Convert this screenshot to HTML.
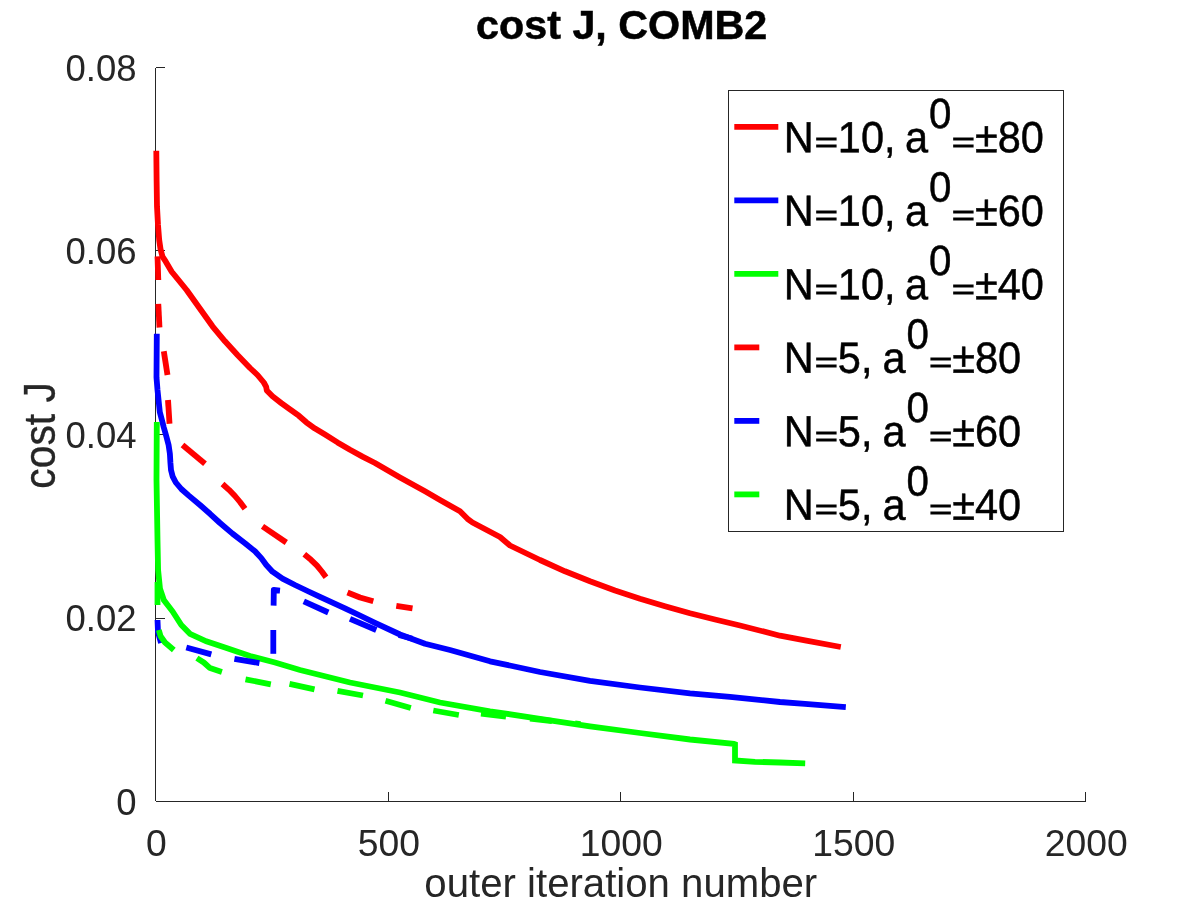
<!DOCTYPE html>
<html lang="en">
<head>
<meta charset="utf-8">
<title>cost J, COMB2</title>
<style>
html,body{margin:0;padding:0;background:#fff;}
body{width:1200px;height:900px;overflow:hidden;position:relative;}
</style>
</head>
<body>
<svg width="1200" height="900" viewBox="0 0 1200 900" style="position:absolute;left:0;top:0;display:block;will-change:transform">
<rect width="1200" height="900" fill="#fff"/>
<g stroke="#262626" stroke-width="1" fill="none" shape-rendering="crispEdges">
<path d="M155.5,68 V801"/>
<path d="M156,801.5 H1086"/>
<path d="M388.5,801 v-9"/>
<path d="M620.5,801 v-9"/>
<path d="M853.5,801 v-9"/>
<path d="M1085.5,801 v-9"/>
<path d="M156,618.5 h9"/>
<path d="M156,434.5 h9"/>
<path d="M156,250.5 h9"/>
<path d="M156,67.5 h9"/>
</g>
<polyline points="156.3,150.8 156.6,180.0 157.0,206.7 158.0,225.0 159.2,240.0 160.5,249.0 162.5,256.7 165.8,261.7 171.7,271.7 174.6,275.3 186.6,290.0 200.0,308.8 212.5,326.3 225.0,341.3 237.5,355.0 250.0,368.0 257.5,375.0 263.8,382.5 266.2,386.9 266.8,390.4 272.5,396.3 281.3,403.1 290.0,409.4 298.8,415.7 306.3,422.3 315.0,428.6 325.0,434.6 337.5,442.4 350.0,449.8 362.5,456.6 375.0,463.0 400.0,477.5 425.0,491.3 440.0,500.0 460.0,511.3 467.5,518.8 472.5,522.5 500.0,537.0 510.0,545.5 540.0,560.0 565.0,571.3 590.0,581.3 615.0,590.5 640.0,598.8 665.0,606.3 690.0,613.3 715.0,619.5 740.0,625.5 780.0,635.7 805.0,640.4 840.8,647.0" fill="none" stroke="#ff0000" stroke-width="5.8" stroke-linejoin="round" stroke-linecap="butt"/>
<polyline points="156.8,333.8 156.5,377.5 157.5,390.0 159.8,412.0 161.9,420.0 163.8,427.5 166.3,436.3 168.6,445.0 169.9,453.8 170.4,462.5 171.0,470.0 172.6,476.3 175.8,482.5 181.3,489.0 188.8,495.6 200.0,505.0 210.0,513.8 220.0,523.0 232.5,533.6 245.0,543.2 255.0,551.3 261.3,558.1 266.3,565.0 272.5,571.7 282.5,578.6 295.0,585.0 307.5,591.0 320.0,596.9 332.5,602.7 345.0,608.3 360.0,615.5 375.0,622.8 400.0,634.5 425.0,643.8 450.0,650.0 490.0,661.3 540.0,672.0 590.0,680.8 640.0,687.5 690.0,693.3 730.0,696.8 780.0,702.0 805.0,703.8 845.8,707.1" fill="none" stroke="#0000ff" stroke-width="5.8" stroke-linejoin="round" stroke-linecap="butt"/>
<polyline points="156.8,422.0 156.5,480.0 157.5,540.0 158.1,570.0 160.0,588.8 163.8,600.0 172.5,611.3 181.3,625.0 190.0,633.8 206.3,641.3 225.0,647.5 250.0,656.0 275.0,662.5 300.0,670.0 350.0,682.5 400.0,692.5 440.0,702.5 490.0,711.3 540.0,718.8 590.0,726.3 640.0,733.0 690.0,739.5 733.8,743.8 735.0,744.3 735.0,760.5 755.0,761.8 780.0,762.5 805.2,763.3" fill="none" stroke="#00ff00" stroke-width="5.8" stroke-linejoin="miter" stroke-linecap="butt"/>
<polyline points="157.5,256.3 158.3,280.0" fill="none" stroke="#ff0000" stroke-width="5.8" stroke-linejoin="round" stroke-linecap="butt"/>
<polyline points="158.3,303.8 159.5,327.5" fill="none" stroke="#ff0000" stroke-width="5.8" stroke-linejoin="round" stroke-linecap="butt"/>
<polyline points="163.8,351.3 167.5,375.0" fill="none" stroke="#ff0000" stroke-width="5.8" stroke-linejoin="round" stroke-linecap="butt"/>
<polyline points="168.0,400.0 169.5,423.8" fill="none" stroke="#ff0000" stroke-width="5.8" stroke-linejoin="round" stroke-linecap="butt"/>
<polyline points="182.5,445.0 205.0,463.8" fill="none" stroke="#ff0000" stroke-width="5.8" stroke-linejoin="round" stroke-linecap="butt"/>
<polyline points="222.5,484.0 229.0,489.8 235.0,496.0 240.0,502.0 245.0,508.8" fill="none" stroke="#ff0000" stroke-width="5.8" stroke-linejoin="round" stroke-linecap="butt"/>
<polyline points="262.5,526.3 286.3,542.5" fill="none" stroke="#ff0000" stroke-width="5.8" stroke-linejoin="round" stroke-linecap="butt"/>
<polyline points="304.3,554.3 311.0,559.8 317.0,565.6 322.0,571.8 326.0,577.3" fill="none" stroke="#ff0000" stroke-width="5.8" stroke-linejoin="round" stroke-linecap="butt"/>
<polyline points="347.5,592.5 360.0,597.5 373.3,601.3" fill="none" stroke="#ff0000" stroke-width="5.8" stroke-linejoin="round" stroke-linecap="butt"/>
<polyline points="396.3,605.8 412.5,608.3" fill="none" stroke="#ff0000" stroke-width="5.8" stroke-linejoin="round" stroke-linecap="butt"/>
<polyline points="157.5,620.0 158.0,632.0 161.0,643.0" fill="none" stroke="#0000ff" stroke-width="5.8" stroke-linejoin="round" stroke-linecap="butt"/>
<polyline points="186.3,647.5 211.3,654.4" fill="none" stroke="#0000ff" stroke-width="5.8" stroke-linejoin="round" stroke-linecap="butt"/>
<polyline points="234.4,658.8 259.4,663.1" fill="none" stroke="#0000ff" stroke-width="5.8" stroke-linejoin="round" stroke-linecap="butt"/>
<polyline points="273.3,653.8 273.3,630.0" fill="none" stroke="#0000ff" stroke-width="5.8" stroke-linejoin="round" stroke-linecap="butt"/>
<polyline points="273.6,605.6 273.8,590.0 280.0,590.6" fill="none" stroke="#0000ff" stroke-width="5.8" stroke-linejoin="round" stroke-linecap="butt"/>
<polyline points="303.8,601.3 328.3,612.5" fill="none" stroke="#0000ff" stroke-width="5.8" stroke-linejoin="round" stroke-linecap="butt"/>
<polyline points="350.0,618.8 376.3,630.0" fill="none" stroke="#0000ff" stroke-width="5.8" stroke-linejoin="round" stroke-linecap="butt"/>
<polyline points="398.8,635.0 412.5,638.8" fill="none" stroke="#0000ff" stroke-width="5.8" stroke-linejoin="round" stroke-linecap="butt"/>
<polyline points="157.5,582.0 157.5,605.0" fill="none" stroke="#00ff00" stroke-width="5.8" stroke-linejoin="round" stroke-linecap="butt"/>
<polyline points="158.8,630.0 160.6,636.3 165.0,642.5 173.8,650.0" fill="none" stroke="#00ff00" stroke-width="5.8" stroke-linejoin="round" stroke-linecap="butt"/>
<polyline points="196.9,658.1 203.8,662.5 210.0,668.1 221.9,671.9" fill="none" stroke="#00ff00" stroke-width="5.8" stroke-linejoin="round" stroke-linecap="butt"/>
<polyline points="245.5,679.3 270.8,684.3" fill="none" stroke="#00ff00" stroke-width="5.8" stroke-linejoin="round" stroke-linecap="butt"/>
<polyline points="289.5,683.8 314.5,689.3" fill="none" stroke="#00ff00" stroke-width="5.8" stroke-linejoin="round" stroke-linecap="butt"/>
<polyline points="337.5,690.8 363.0,695.5" fill="none" stroke="#00ff00" stroke-width="5.8" stroke-linejoin="round" stroke-linecap="butt"/>
<polyline points="385.5,700.8 410.8,708.0" fill="none" stroke="#00ff00" stroke-width="5.8" stroke-linejoin="round" stroke-linecap="butt"/>
<polyline points="433.3,710.5 458.8,715.0" fill="none" stroke="#00ff00" stroke-width="5.8" stroke-linejoin="round" stroke-linecap="butt"/>
<polyline points="481.0,713.5 506.0,716.5" fill="none" stroke="#00ff00" stroke-width="5.8" stroke-linejoin="round" stroke-linecap="butt"/>
<polyline points="530.0,718.5 552.0,721.0" fill="none" stroke="#00ff00" stroke-width="5.8" stroke-linejoin="round" stroke-linecap="butt"/>
<polyline points="575.0,723.3 580.5,724.1" fill="none" stroke="#00ff00" stroke-width="5.8" stroke-linejoin="round" stroke-linecap="butt"/>
<g font-family="'Liberation Sans', Arial, Helvetica, sans-serif" font-size="36.5" fill="#262626">
<text transform="translate(156.3,855.7) scale(1.022,1)" text-anchor="middle">0</text>
<text transform="translate(388.8,855.7) scale(1.022,1)" text-anchor="middle">500</text>
<text transform="translate(621.3,855.7) scale(1.022,1)" text-anchor="middle">1000</text>
<text transform="translate(853.8,855.7) scale(1.022,1)" text-anchor="middle">1500</text>
<text transform="translate(1086.3,855.7) scale(1.022,1)" text-anchor="middle">2000</text>
<text x="136.5" y="814.8" text-anchor="end">0</text>
<text x="136.5" y="631.3" text-anchor="end">0.02</text>
<text x="136.5" y="447.8" text-anchor="end">0.04</text>
<text x="136.5" y="264.3" text-anchor="end">0.06</text>
<text x="136.5" y="80.8" text-anchor="end">0.08</text>
</g>
<g font-family="'Liberation Sans', Arial, Helvetica, sans-serif">
<text transform="translate(620.8,897) scale(1.004,1)" font-size="40" fill="#262626" text-anchor="middle">outer iteration number</text>
<text transform="translate(55.1,435.4) rotate(-90) scale(1.02,1.09)" font-size="40" fill="#262626" stroke="#262626" stroke-width="0.3" text-anchor="middle">cost J</text>
<text transform="translate(621.7,38.8) scale(1.032,1)" font-size="40" font-weight="bold" fill="#000" stroke="#000" stroke-width="0.5" text-anchor="middle">cost J, COMB2</text>
</g>
<rect x="728.5" y="90.5" width="335" height="441" fill="#fff" stroke="#262626" stroke-width="1" shape-rendering="crispEdges"/>
<g font-family="'Liberation Sans', Arial, Helvetica, sans-serif" font-size="43.6" fill="#000" stroke="#000" stroke-width="0.5">
<line x1="734.3" y1="126.9" x2="778.3" y2="126.9" stroke="#ff0000" stroke-width="5.8"/>
<text transform="translate(0,151.8) rotate(0.03) scale(0.9518,1)" y="0"><tspan x="823.4">N</tspan><tspan x="880.3">10,</tspan><tspan x="950.8">a</tspan><tspan x="976.0" dy="-24.3" font-size="42.3">0</tspan><tspan x="1024.3" dy="24.3">±80</tspan></text>
<text transform="translate(814.9,151.8) scale(0.8947,0.63)" stroke-width="1.3" vector-effect="non-scaling-stroke">=</text>
<text transform="translate(951.9,151.8) scale(0.8947,0.63)" stroke-width="1.3" vector-effect="non-scaling-stroke">=</text>
<line x1="734.3" y1="200.4" x2="778.3" y2="200.4" stroke="#0000ff" stroke-width="5.8"/>
<text transform="translate(0,225.3) rotate(0.03) scale(0.9518,1)" y="0"><tspan x="823.4">N</tspan><tspan x="880.3">10,</tspan><tspan x="950.8">a</tspan><tspan x="976.0" dy="-24.3" font-size="42.3">0</tspan><tspan x="1024.3" dy="24.3">±60</tspan></text>
<text transform="translate(814.9,225.3) scale(0.8947,0.63)" stroke-width="1.3" vector-effect="non-scaling-stroke">=</text>
<text transform="translate(951.9,225.3) scale(0.8947,0.63)" stroke-width="1.3" vector-effect="non-scaling-stroke">=</text>
<line x1="734.3" y1="273.9" x2="778.3" y2="273.9" stroke="#00ff00" stroke-width="5.8"/>
<text transform="translate(0,298.8) rotate(0.03) scale(0.9518,1)" y="0"><tspan x="823.4">N</tspan><tspan x="880.3">10,</tspan><tspan x="950.8">a</tspan><tspan x="976.0" dy="-24.3" font-size="42.3">0</tspan><tspan x="1024.3" dy="24.3">±40</tspan></text>
<text transform="translate(814.9,298.8) scale(0.8947,0.63)" stroke-width="1.3" vector-effect="non-scaling-stroke">=</text>
<text transform="translate(951.9,298.8) scale(0.8947,0.63)" stroke-width="1.3" vector-effect="non-scaling-stroke">=</text>
<line x1="734.3" y1="347.4" x2="759.3" y2="347.4" stroke="#ff0000" stroke-width="5.8"/>
<text transform="translate(0,372.3) rotate(0.03) scale(0.9518,1)" y="0"><tspan x="823.4">N</tspan><tspan x="880.3">5,</tspan><tspan x="927.1">a</tspan><tspan x="952.3" dy="-24.3" font-size="42.3">0</tspan><tspan x="1000.5" dy="24.3">±80</tspan></text>
<text transform="translate(814.9,372.3) scale(0.8947,0.63)" stroke-width="1.3" vector-effect="non-scaling-stroke">=</text>
<text transform="translate(929.3,372.3) scale(0.8947,0.63)" stroke-width="1.3" vector-effect="non-scaling-stroke">=</text>
<line x1="734.3" y1="420.9" x2="759.3" y2="420.9" stroke="#0000ff" stroke-width="5.8"/>
<text transform="translate(0,445.8) rotate(0.03) scale(0.9518,1)" y="0"><tspan x="823.4">N</tspan><tspan x="880.3">5,</tspan><tspan x="927.1">a</tspan><tspan x="952.3" dy="-24.3" font-size="42.3">0</tspan><tspan x="1000.5" dy="24.3">±60</tspan></text>
<text transform="translate(814.9,445.8) scale(0.8947,0.63)" stroke-width="1.3" vector-effect="non-scaling-stroke">=</text>
<text transform="translate(929.3,445.8) scale(0.8947,0.63)" stroke-width="1.3" vector-effect="non-scaling-stroke">=</text>
<line x1="734.3" y1="494.4" x2="759.3" y2="494.4" stroke="#00ff00" stroke-width="5.8"/>
<text transform="translate(0,519.3) rotate(0.03) scale(0.9518,1)" y="0"><tspan x="823.4">N</tspan><tspan x="880.3">5,</tspan><tspan x="927.1">a</tspan><tspan x="952.3" dy="-24.3" font-size="42.3">0</tspan><tspan x="1000.5" dy="24.3">±40</tspan></text>
<text transform="translate(814.9,519.3) scale(0.8947,0.63)" stroke-width="1.3" vector-effect="non-scaling-stroke">=</text>
<text transform="translate(929.3,519.3) scale(0.8947,0.63)" stroke-width="1.3" vector-effect="non-scaling-stroke">=</text>
</g>
</svg>
</body>
</html>
